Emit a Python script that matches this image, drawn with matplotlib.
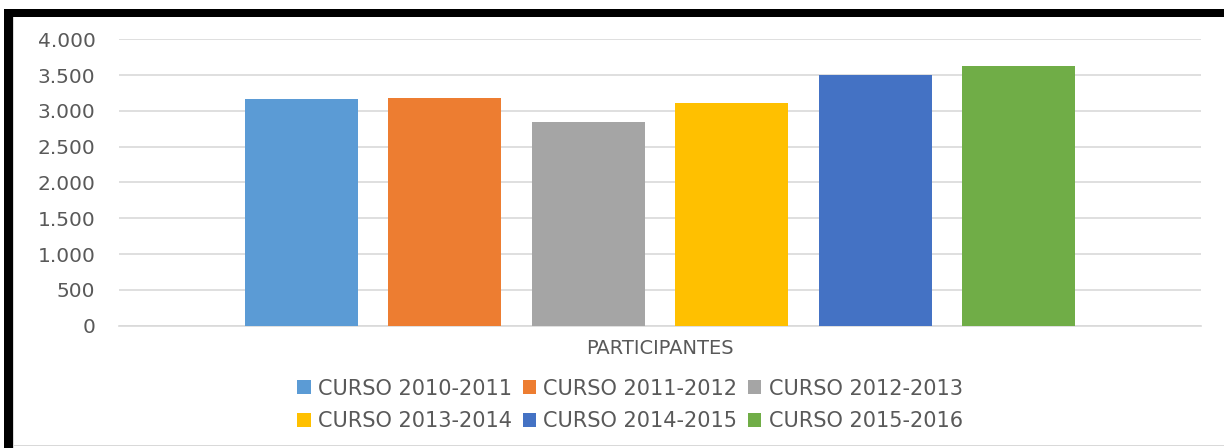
import matplotlib
matplotlib.use("Agg")
import matplotlib.pyplot as plt
from matplotlib.patches import Rectangle
from matplotlib.ticker import FuncFormatter, MultipleLocator

cursos = ["CURSO 2010-2011", "CURSO 2011-2012", "CURSO 2012-2013",
          "CURSO 2013-2014", "CURSO 2014-2015", "CURSO 2015-2016"]
participantes = [3160, 3175, 2840, 3105, 3505, 3630]
colores = ["#5B9BD5", "#ED7D31", "#A5A5A5", "#FFC000", "#4472C4", "#70AD47"]

W, H = 1224, 448
fig = plt.figure(figsize=(W / 100, H / 100), dpi=100)
fig.patch.set_facecolor("white")

# frame around the chart (pixel coords -> figure fraction)
def px_rect(x0, y0, x1, y1, color):
    fig.patches.append(Rectangle((x0 / W, 1 - y1 / H), (x1 - x0) / W, (y1 - y0) / H,
                                 transform=fig.transFigure, color=color, zorder=0,
                                 linewidth=0))

px_rect(4, 9, W, 17, "black")
px_rect(4, 9, 13, H, "black")
px_rect(13, 17, 14, H, "#d9d9d9")
px_rect(13, 445, W, 446, "#d9d9d9")

ax = fig.add_axes([119 / W, 1 - 325.7 / H, (1201 - 119) / W, (325.7 - 39.3) / H])
ax.set_facecolor("none")

x = list(range(len(cursos)))
bars = ax.bar(x, participantes, width=0.787, color=colores, zorder=3)

ax.set_xlim(2.5 - 3.77, 2.5 + 3.77)
ax.set_ylim(0, 4000)
ax.yaxis.set_major_locator(MultipleLocator(500))
ax.yaxis.set_major_formatter(FuncFormatter(lambda v, p: f"{int(v):,}".replace(",", ".")))
ax.grid(axis="y", color="#d9d9d9", linewidth=1.2, zorder=0)
ax.set_xticks([])
for s in ["top", "right", "left"]:
    ax.spines[s].set_visible(False)
ax.spines["bottom"].set_color("#d9d9d9")
ax.spines["bottom"].set_linewidth(1.2)
ax.tick_params(axis="y", length=0, pad=17, labelsize=14.5, labelcolor="#595959")

fig.text(660 / W, 1 - 349 / H, "PARTICIPANTES", ha="center", va="center",
         fontsize=14, color="#595959")

# legend filled row by row, like the original
orden = [0, 3, 1, 4, 2, 5]
leg = fig.legend([bars[i] for i in orden], [cursos[i] for i in orden],
                 loc="center", bbox_to_anchor=(630 / W, 1 - 405 / H),
                 ncol=3, frameon=False, fontsize=15, handlelength=0.65, handleheight=0.65,
                 handletextpad=0.35, columnspacing=0.5, labelspacing=0.6)
for t in leg.get_texts():
    t.set_color("#595959")

fig.savefig("out.png", dpi=100)
